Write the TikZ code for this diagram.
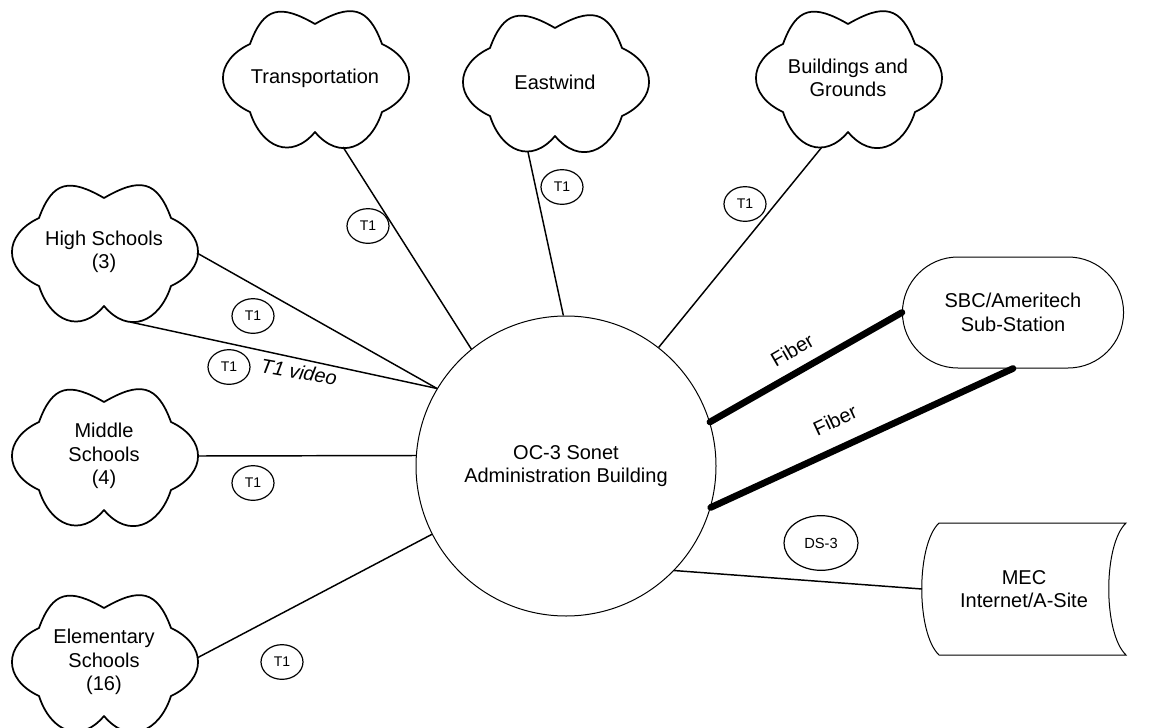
\documentclass[tikz,border=0pt]{standalone}
\usepackage{fontspec}
\setmainfont{Liberation Sans}
\usetikzlibrary{shapes.geometric,shapes.misc}
\begin{document}
\begin{tikzpicture}[x=0.75pt,y=0.75pt,
  every node/.style={font=\fontsize{15}{17.5}\selectfont, align=center},
  cloudline/.style={line width=1.3pt, line join=round, line cap=round},
  link/.style={line width=1.1pt},
  fiber/.style={line width=5pt, line cap=round},
  tag/.style={draw, ellipse, line width=0.9pt, minimum width=31.5pt, minimum height=26pt, inner sep=0pt, font=\fontsize{10.5}{12}\selectfont},
  pics/cloudy/.style={code={
    \draw[cloudline] (0,54) to[out=150,in=70,looseness=1.5] (-65,34)
      to[out=205,in=155,looseness=1.5] (-65,-34)
      to[out=288,in=230,looseness=1.4] (0,-54)
      to[out=310,in=252,looseness=1.4] (67,-34)
      to[out=25,in=-25,looseness=1.5] (67,34)
      to[out=110,in=30,looseness=1.5] (0,54);
  }}
]
\useasboundingbox (0,0) rectangle (1150,-728);

% clouds
\pic at (315,-78) {cloudy};
\node (trans) at (315,-78) {Transportation};
\pic at (555,-82) {cloudy};
\node (east) at (555,-82) {Eastwind};
\pic at (848,-78) {cloudy};
\node (bg) at (848,-78) {Buildings and\\Grounds};
\pic at (104,-252) {cloudy};
\node (hs) at (104,-252) {High Schools\\(3)};
\pic at (104,-456) {cloudy};
\node (ms) at (104,-456) {Middle\\Schools\\(4)};
\pic at (104,-662) {cloudy};
\node (es) at (104,-662) {Elementary\\Schools\\(16)};

% centre
\node[draw, circle, minimum size=225pt, inner sep=0pt, line width=0.75pt] (admin) at (566,-466) {OC-3 Sonet\\Administration Building};

% SBC
\node[draw, rounded rectangle, minimum width=172.5pt, minimum height=83.25pt, line width=0.75pt] (sbc) at (1013,-312.5) {SBC/Ameritech\\Sub-Station};

% MEC
\node (mec) at (1024,-589) {MEC\\Internet/A-Site};
\draw[line width=0.75pt] (939,-523) -- (1126,-523) .. controls (1103,-545) and (1103,-633) .. (1126,-655) -- (939,-655) .. controls (916,-633) and (916,-545) .. (939,-523) -- cycle;

% connector end points on clouds
\coordinate (trans-s) at (343,-147);
\coordinate (east-s) at (528,-152);
\coordinate (bg-s) at (822,-147);
\coordinate (hs-e) at (197,-253);
\coordinate (hs-s) at (130,-322);
\coordinate (ms-e) at (197,-456);
\coordinate (es-e) at (197,-658);
\coordinate (mec-w) at (922,-589);

% connectors
\draw[link] (trans-s) -- (admin.129);
\draw[link] (east-s) -- (admin.91);
\draw[link] (bg-s) -- (admin.52);
\draw[link] (hs-e) -- (admin.149);
\draw[link] (hs-s) -- (admin.149);
\draw[link] (ms-e) -- (admin.176);
\draw[link] (es-e) -- (admin.207);
\draw[link] (admin.316) -- (mec-w);
\draw[fiber] (admin.17) -- (sbc.west);
\draw[fiber] (admin.344) -- (sbc.south);

% labels
\node[tag] (t1a) at (368,-226) {T1};
\node[tag] (t1b) at (562,-187) {T1};
\node[tag] (t1c) at (745,-204) {T1};
\node[tag] (t1d) at (253,-316) {T1};
\node[tag] (t1e) at (229,-367) {T1};
\node[tag] (t1f) at (253,-483) {T1};
\node[tag] (t1g) at (282,-662) {T1};
\node[tag, minimum width=55.5pt, minimum height=41pt, font=\fontsize{11}{13}\selectfont] (ds3) at (821,-543) {DS-3};
\node[rotate=-10, font=\fontsize{15}{17.5}\selectfont\itshape] (vid) at (299,-372) {T1 video};
\node[rotate=30] (fib1) at (792,-350) {Fiber};
\node[rotate=25] (fib2) at (835,-420) {Fiber};
\end{tikzpicture}
\end{document}
